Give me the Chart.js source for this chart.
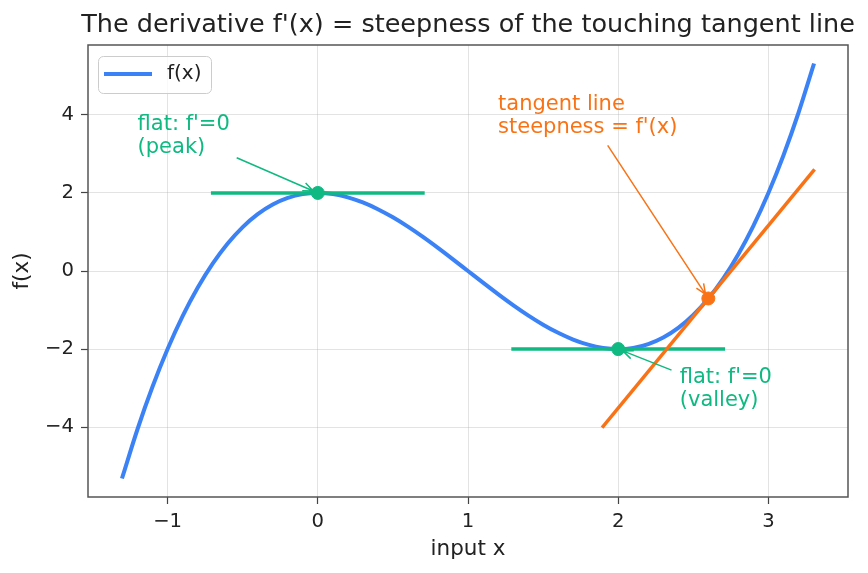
<!DOCTYPE html>
<html>
<head>
<meta charset="utf-8">
<script src="https://cdn.jsdelivr.net/npm/chart.js@4.4.1/dist/chart.umd.min.js"></script>
<style>
  html, body { margin: 0; padding: 0; background: #fff; }
  canvas { display: block; }
</style>
</head>
<body>
<canvas id="chart" width="868" height="573"></canvas>
<script>
// values
const curveX = [-1.3, -1.2, -1.1, -1.0, -0.9, -0.8, -0.7, -0.6, -0.5, -0.4, -0.3, -0.2, -0.1,
  0.0, 0.1, 0.2, 0.3, 0.4, 0.5, 0.6, 0.7, 0.8, 0.9, 1.0, 1.1, 1.2, 1.3, 1.4, 1.5, 1.6, 1.7,
  1.8, 1.9, 2.0, 2.1, 2.2, 2.3, 2.4, 2.5, 2.6, 2.7, 2.8, 2.9, 3.0, 3.1, 3.2, 3.3];
const curveY = [-5.267, -4.048, -2.961, -2.0, -1.159, -0.432, 0.187, 0.704, 1.125, 1.456, 1.703,
  1.872, 1.969, 2.0, 1.971, 1.888, 1.757, 1.584, 1.375, 1.136, 0.873, 0.592, 0.299, 0.0,
  -0.299, -0.592, -0.873, -1.136, -1.375, -1.584, -1.757, -1.888, -1.971, -2.0, -1.969,
  -1.872, -1.703, -1.456, -1.125, -0.704, -0.187, 0.432, 1.159, 2.0, 2.961, 4.048, 5.267];
const tangentX = [1.9, 3.3];
const tangentY = [-3.98, 2.57];
const peakFlatX = [-0.7, 0.7];
const peakFlatY = [2, 2];
const valleyFlatX = [1.3, 2.7];
const valleyFlatY = [-2, -2];
const flatPointX = [0, 2];
const flatPointY = [2, -2];
const touchPointX = [2.6];
const touchPointY = [-0.704];
const xTicks = [-1, 0, 1, 2, 3];
const yTicks = [-4, -2, 0, 2, 4];

const BLUE = "#3b82f6";
const ORANGE = "#f97316";
const GREEN = "#10b981";
const FONT = "'DejaVu Sans', sans-serif";

const pts = (xs, ys) => xs.map((x, i) => ({ x: x, y: ys[i] }));
const minus = (v) => String(v).replace("-", "\u2212");

// text + arrows, anchored in data coordinates
const notes = [
  { lines: ["flat: f'=0", "(peak)"], at: [-1.2, 3.74], from: [-0.54, 2.9], to: [0, 2], color: GREEN },
  { lines: ["tangent line", "steepness = f'(x)"], at: [1.2, 4.26], from: [1.93, 3.22], to: [2.6, -0.704], color: ORANGE },
  { lines: ["flat: f'=0", "(valley)"], at: [2.41, -2.74], from: [2.355, -2.54], to: [2, -2], color: GREEN },
];

const decor = {
  id: "decor",
  afterDatasetsDraw(chart) {
    const { ctx, chartArea: a, scales } = chart;
    const px = (v) => scales.x.getPixelForValue(v);
    const py = (v) => scales.y.getPixelForValue(v);
    ctx.save();

    // annotations
    notes.forEach((n) => {
      ctx.fillStyle = n.color;
      ctx.font = "21px " + FONT;
      ctx.textAlign = "left";
      ctx.textBaseline = "middle";
      n.lines.forEach((t, i) => ctx.fillText(t, px(n.at[0]), py(n.at[1]) + i * 23));

      const x0 = px(n.from[0]), y0 = py(n.from[1]);
      let x1 = px(n.to[0]), y1 = py(n.to[1]);
      const ang = Math.atan2(y1 - y0, x1 - x0);
      x1 -= Math.cos(ang) * 5;
      y1 -= Math.sin(ang) * 5;
      ctx.strokeStyle = n.color;
      ctx.lineWidth = 1.5;
      ctx.beginPath();
      ctx.moveTo(x0, y0);
      ctx.lineTo(x1, y1);
      const hl = 11, hw = 0.4;
      ctx.moveTo(x1 - hl * Math.cos(ang - hw), y1 - hl * Math.sin(ang - hw));
      ctx.lineTo(x1, y1);
      ctx.lineTo(x1 - hl * Math.cos(ang + hw), y1 - hl * Math.sin(ang + hw));
      ctx.stroke();
    });

    // legend
    const lx = a.left + 10, ly = a.top + 11, lw = 113, lh = 37, r = 5;
    ctx.fillStyle = "rgba(255,255,255,0.8)";
    ctx.strokeStyle = "#cccccc";
    ctx.lineWidth = 1;
    ctx.beginPath();
    ctx.roundRect(lx + 0.5, ly + 0.5, lw, lh, r);
    ctx.fill();
    ctx.stroke();
    ctx.strokeStyle = BLUE;
    ctx.lineWidth = 4;
    ctx.beginPath();
    ctx.moveTo(lx + 6, ly + 18);
    ctx.lineTo(lx + 54, ly + 18);
    ctx.stroke();
    ctx.fillStyle = "#222";
    ctx.font = "20px " + FONT;
    ctx.textBaseline = "middle";
    ctx.fillText("f(x)", lx + 69, ly + 18);

    // frame
    ctx.strokeStyle = "#555";
    ctx.lineWidth = 1.5;
    ctx.strokeRect(a.left, a.top, a.right - a.left, a.bottom - a.top);

    // titles
    const cx = (a.left + a.right) / 2;
    ctx.fillStyle = "#222";
    ctx.textAlign = "center";
    ctx.font = "25.5px " + FONT;
    ctx.fillText("The derivative f'(x) = steepness of the touching tangent line", cx, 25);
    ctx.font = "21.5px " + FONT;
    ctx.fillText("input x", cx, 549);
    ctx.translate(22, (a.top + a.bottom) / 2);
    ctx.rotate(-Math.PI / 2);
    ctx.fillText("f(x)", 0, 0);
    ctx.restore();
  },
};

const gridColor = "rgba(176,176,176,0.35)";

new Chart(document.getElementById("chart"), {
  type: "scatter",
  data: {
    datasets: [
      { label: "touch", data: pts(touchPointX, touchPointY), backgroundColor: ORANGE, borderColor: ORANGE, pointRadius: 6.5, order: 0 },
      { label: "flat points", data: pts(flatPointX, flatPointY), backgroundColor: GREEN, borderColor: GREEN, pointRadius: 6.5, order: 0 },
      { label: "tangent", data: pts(tangentX, tangentY), showLine: true, borderColor: ORANGE, borderWidth: 3.5, borderCapStyle: "square", pointRadius: 0, order: 1 },
      { label: "peak flat", data: pts(peakFlatX, peakFlatY), showLine: true, borderColor: GREEN, borderWidth: 3.5, borderCapStyle: "square", pointRadius: 0, order: 2 },
      { label: "valley flat", data: pts(valleyFlatX, valleyFlatY), showLine: true, borderColor: GREEN, borderWidth: 3.5, borderCapStyle: "square", pointRadius: 0, order: 2 },
      { label: "f(x)", data: pts(curveX, curveY), showLine: true, borderColor: BLUE, borderWidth: 4, borderCapStyle: "square", pointRadius: 0, cubicInterpolationMode: "monotone", order: 3 },
    ],
  },
  options: {
    responsive: false,
    animation: false,
    layout: { padding: { left: 0, right: 20, top: 45, bottom: 0 } },
    plugins: { legend: { display: false }, tooltip: { enabled: false } },
    scales: {
      x: {
        min: -1.53,
        max: 3.53,
        afterBuildTicks: (s) => { s.ticks = xTicks.map((v) => ({ value: v })); },
        afterFit: (s) => { s.height = 76; },
        grid: { color: gridColor, lineWidth: 1, tickColor: "#444", tickLength: 7, tickWidth: 1.2 },
        border: { display: false },
        ticks: { color: "#222", padding: 6, font: { family: FONT, size: 19.6 }, callback: (v) => minus(v), maxRotation: 0 },
      },
      y: {
        min: -5.79,
        max: 5.79,
        afterBuildTicks: (s) => { s.ticks = yTicks.map((v) => ({ value: v })); },
        afterFit: (s) => { s.width = 88; },
        grid: { color: gridColor, lineWidth: 1, tickColor: "#444", tickLength: 7, tickWidth: 1.2 },
        border: { display: false },
        ticks: { color: "#222", padding: 7, font: { family: FONT, size: 19.6 }, callback: (v) => minus(v) },
      },
    },
  },
  plugins: [decor],
});
</script>
</body>
</html>
